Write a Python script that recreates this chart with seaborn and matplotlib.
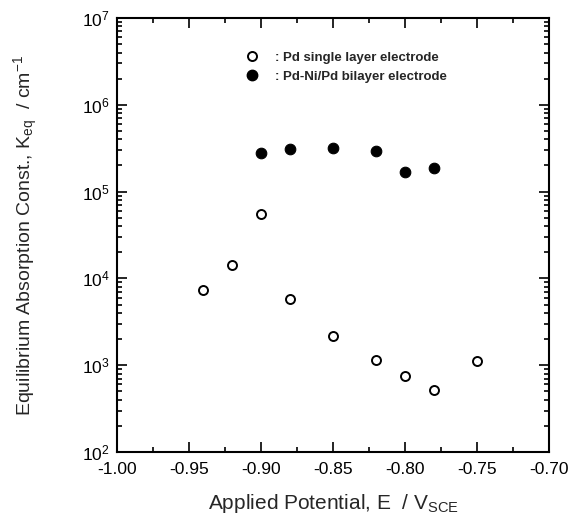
import matplotlib
matplotlib.use("Agg")
import matplotlib.pyplot as plt
import seaborn as sns
import numpy as np
import pandas as pd
from matplotlib.ticker import LogLocator, LogFormatterMathtext, MultipleLocator
from matplotlib.lines import Line2D

# Data
pd_single_E = [-0.94, -0.92, -0.90, -0.88, -0.85, -0.82, -0.80, -0.78, -0.75]
pd_single_K = [7400, 14300, 54700, 5800, 2190, 1150, 757, 518, 1130]
pdni_E = [-0.90, -0.88, -0.85, -0.82, -0.80, -0.78]
pdni_K = [280000, 310000, 315000, 296000, 167000, 186000]
labels = [": Pd single layer electrode", ": Pd-Ni/Pd bilayer electrode"]

sns.set_theme(style="ticks")
plt.rcParams['font.family'] = ['Liberation Sans', 'DejaVu Sans']
plt.rcParams['mathtext.fontset'] = 'custom'
plt.rcParams['mathtext.rm'] = 'Liberation Sans'
plt.rcParams['mathtext.it'] = 'Liberation Sans'
plt.rcParams['mathtext.default'] = 'regular'

fig = plt.figure(figsize=(5.68, 5.18), dpi=100)
ax = fig.add_axes([0.206, 0.1274, 0.7605, 0.8379])

df1 = pd.DataFrame({"E": pd_single_E, "K": pd_single_K})
df2 = pd.DataFrame({"E": pdni_E, "K": pdni_K})
sns.scatterplot(data=df1, x="E", y="K", ax=ax, marker="o", s=42,
                facecolor="white", edgecolor="black", linewidth=1.4, zorder=3)
sns.scatterplot(data=df2, x="E", y="K", ax=ax, marker="o", s=58,
                color="black", edgecolor="black", linewidth=0.8, zorder=3)

ax.set_yscale("log")
ax.set_xlim(-1.00, -0.70)
ax.set_ylim(1e2, 1e7)
ax.xaxis.set_major_locator(MultipleLocator(0.05))
ax.xaxis.set_minor_locator(MultipleLocator(0.025))
ax.xaxis.set_major_formatter(matplotlib.ticker.FormatStrFormatter('%.2f'))
ax.yaxis.set_major_locator(LogLocator(base=10, numticks=10))
ax.yaxis.set_minor_locator(LogLocator(base=10, subs=np.arange(2, 10), numticks=20))
ax.yaxis.set_major_formatter(LogFormatterMathtext())
ax.yaxis.set_minor_formatter(matplotlib.ticker.NullFormatter())

ax.tick_params(which="both", direction="in", top=True, right=True, width=1.2, colors="black")
ax.tick_params(which="major", length=7, labelsize=12.5, pad=5)
ax.tick_params(axis="x", which="major", pad=7)
ax.tick_params(which="minor", length=3.5)
for sp in ax.spines.values():
    sp.set_linewidth(1.5)
    sp.set_color("black")

ax.set_xlabel("Applied Potential, E  / V$_{SCE}$", fontsize=15, labelpad=11)
ax.set_ylabel("Equilibrium Absorption Const., K$_{eq}$  / cm$^{-1}$", fontsize=14, labelpad=30)

handles = [
    Line2D([], [], marker="o", linestyle="none", markersize=6.5, markerfacecolor="white",
           markeredgecolor="black", markeredgewidth=1.4),
    Line2D([], [], marker="o", linestyle="none", markersize=7.5, markerfacecolor="black",
           markeredgecolor="black"),
]
leg = ax.legend(handles, labels, loc="upper left", bbox_to_anchor=(0.255, 0.95),
                frameon=False, handletextpad=0.7, labelspacing=0.5,
                prop={"weight": "bold", "size": 9.5})

fig.savefig("out.png", dpi=100)
